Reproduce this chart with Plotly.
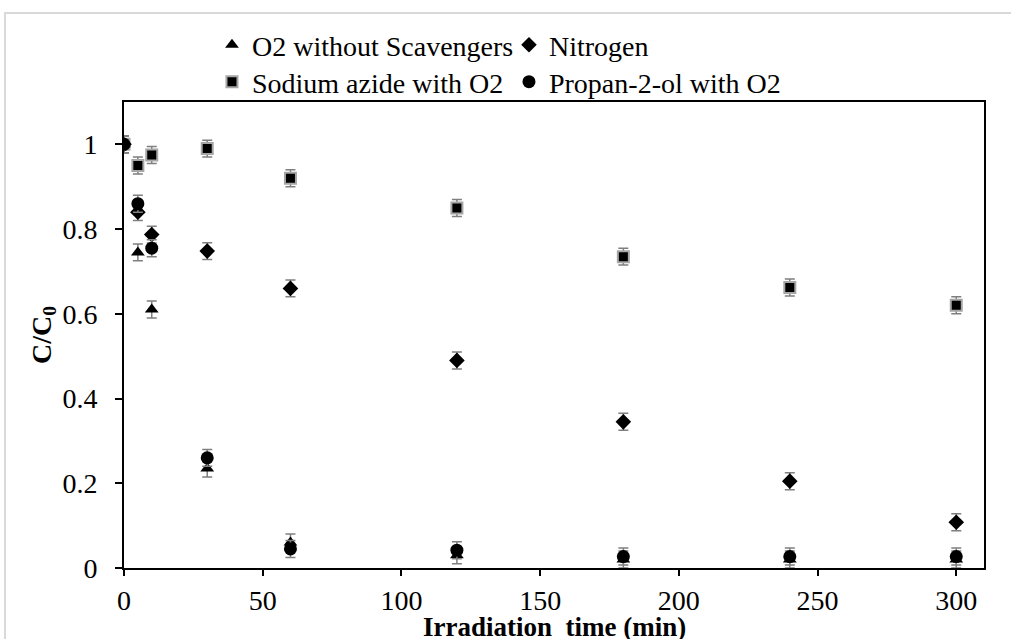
import plotly.graph_objects as go

time_min = [0, 5, 10, 30, 60, 120, 180, 240, 300]

o2_without = [1.0, 0.745, 0.61, 0.235, 0.06, 0.03, 0.02, 0.02, 0.02]
nitrogen = [1.0, 0.84, 0.787, 0.748, 0.66, 0.49, 0.345, 0.205, 0.108]
sodium_azide = [1.0, 0.95, 0.975, 0.99, 0.92, 0.85, 0.735, 0.662, 0.62]
propanol = [1.0, 0.86, 0.755, 0.26, 0.045, 0.042, 0.027, 0.027, 0.027]

err_o2 = [0.02] * 9
err_n2 = [0.02] * 9
err_az = [0.02] * 9
err_pr = [0.02] * 9

x_ticks = [0, 50, 100, 150, 200, 250, 300]
y_ticks = [0, 0.2, 0.4, 0.6, 0.8, 1]
y_tick_labels = ["0", "0.2", "0.4", "0.6", "0.8", "1"]

FONT = "Liberation Serif"
ERR_COLOR = "#7f7f7f"

def err(vals):
    return dict(type="data", array=vals, visible=True, color=ERR_COLOR,
                thickness=1.5, width=5)

fig = go.Figure()
fig.add_trace(go.Scatter(
    x=time_min, y=sodium_azide, mode="markers", name="Sodium azide with O2",
    marker=dict(symbol="square", size=11, color="black",
                line=dict(color="#a6a6a6", width=2)),
    error_y=err(err_az), legend="legend2", legendrank=1))
fig.add_trace(go.Scatter(
    x=time_min, y=nitrogen, mode="markers", name="Nitrogen",
    marker=dict(symbol="diamond", size=12, color="black"),
    error_y=err(err_n2), legend="legend", legendrank=2))
fig.add_trace(go.Scatter(
    x=time_min, y=o2_without, mode="markers", name="O2 without Scavengers",
    marker=dict(symbol="triangle-up", size=12, color="black"),
    error_y=err(err_o2), legend="legend", legendrank=1))
fig.add_trace(go.Scatter(
    x=time_min, y=propanol, mode="markers", name="Propan-2-ol with O2",
    marker=dict(symbol="circle", size=13, color="black"),
    error_y=err(err_pr), legend="legend2", legendrank=2))

leg_common = dict(orientation="h", xanchor="left", yanchor="middle",
                  xref="paper", yref="paper",
                  entrywidth=252, entrywidthmode="pixels",
                  font=dict(family=FONT, size=28, color="black"),
                  itemwidth=30, bgcolor="rgba(0,0,0,0)", borderwidth=0)

fig.update_layout(
    width=1011, height=639,
    margin=dict(l=124, r=27, t=102, b=71, autoexpand=False),
    paper_bgcolor="white", plot_bgcolor="white",
    font=dict(family=FONT, size=28, color="black"),
    showlegend=True,
    legend=dict(x=0.1023, y=(568 - 45) / 466, **leg_common),
    legend2=dict(x=0.1023, y=(568 - 82) / 466, **leg_common),
    xaxis=dict(range=[0, 310], tickvals=x_ticks, ticks="outside", ticklen=6,
               tickwidth=2, tickcolor="black", showline=True, linecolor="black",
               linewidth=2, mirror=True, showgrid=False, zeroline=False,
               automargin=False,
               tickfont=dict(family=FONT, size=28)),
    yaxis=dict(range=[0, 1.1], tickvals=y_ticks, ticktext=y_tick_labels,
               ticks="outside", ticklen=7, tickwidth=2, tickcolor="black",
               showline=True, linecolor="black", linewidth=2, mirror=True,
               showgrid=False, zeroline=False, automargin=False,
               ticklabelstandoff=12,
               tickfont=dict(family=FONT, size=28),
               title=dict(text="<b>C/C<sub>0</sub></b>", standoff=3,
                          font=dict(family=FONT, size=28))),
    annotations=[dict(text="<b>Irradiation  time (min)</b>", xref="paper", yref="paper",
                      x=0.5006, y=(568 - 627) / 466, xanchor="center", yanchor="middle",
                      showarrow=False, font=dict(family=FONT, size=27, color="black"))],
    shapes=[dict(type="rect", xref="paper", yref="paper",
                 x0=-0.1384, x1=1.2, y0=-0.2, y1=1.191,
                 line=dict(color="#d9d9d9", width=2), layer="below")],
)

fig.write_html("out.html", config={"displayModeBar": False},
               post_script="document.body.style.margin='0px';")
